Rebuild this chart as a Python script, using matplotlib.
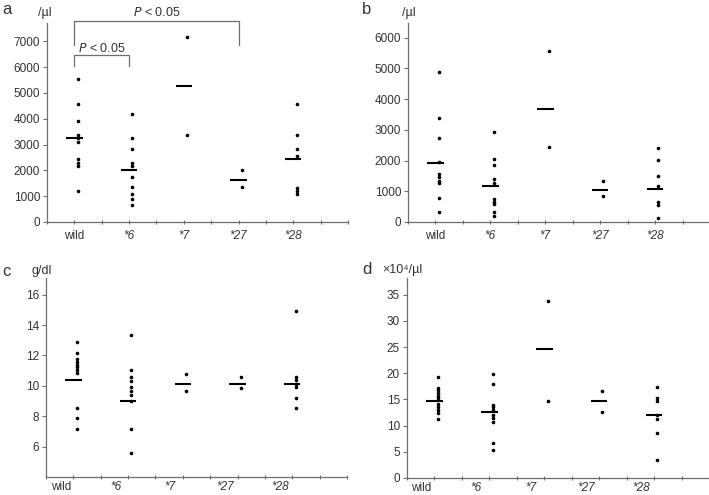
import matplotlib
matplotlib.use("Agg")
import matplotlib.pyplot as plt
import numpy as np

plt.rcParams['font.family'] = ['Liberation Sans', 'DejaVu Sans']

# === Данные ===
groups = ['wild', '*6', '*7', '*27', '*28']

a_vals = [
    [5530, 4570, 3910, 3370, 3260, 3100, 2430, 2300, 2170, 1210],
    [4170, 3240, 2830, 2300, 2180, 1760, 1340, 1085, 900, 660],
    [7150, 3370],
    [2020, 1340],
    [4560, 3370, 2830, 2560, 1330, 1200, 1070],
]
a_mid = [3250, 2000, 5260, 1630, 2430]

b_vals = [
    [4900, 3400, 2720, 1940, 1560, 1450, 1340, 1260, 790, 335],
    [2920, 2040, 1845, 1390, 1280, 740, 660, 575, 335, 195],
    [5580, 2440],
    [1320, 845],
    [2410, 2010, 1500, 1170, 660, 550, 140],
]
b_mid = [1930, 1170, 3670, 1040, 1090]

c_vals = [
    [12.88, 12.19, 11.78, 11.58, 11.38, 11.21, 11.03, 10.84, 8.52, 7.86, 7.18],
    [13.33, 11.05, 10.6, 10.33, 9.9, 9.65, 9.42, 9.0, 7.18, 5.56],
    [10.81, 9.65],
    [10.6, 9.87],
    [14.95, 10.6, 10.38, 10.14, 9.92, 9.22, 8.52],
]
c_mid = [10.38, 9.0, 10.14, 10.14, 10.14]

d_vals = [
    [19.3, 17.25, 16.75, 16.2, 15.7, 15.2, 14.1, 13.55, 13.05, 12.5, 11.3],
    [19.9, 17.9, 14.0, 13.55, 13.05, 12.0, 11.45, 10.75, 6.6, 5.3],
    [33.9, 14.64],
    [16.68, 12.67],
    [17.3, 15.3, 14.65, 12.0, 11.35, 8.65, 3.4],
]
d_mid = [14.64, 12.6, 24.63, 14.64, 11.97]

W, H = 709, 495
spine_c = '#6e6e6e'
text_c = '#333333'


def draw_panel(rect, vals, mids, ylim, yticks, label_shift, label_y):
    ax = fig.add_axes(rect)
    for i, (v, m) in enumerate(zip(vals, mids)):
        ax.plot([i + 0.56] * len(v), v, 'o', color='black', markersize=2.6,
                markeredgewidth=0, clip_on=False)
        ax.plot([i + 0.35, i + 0.65], [m, m], color='black', lw=1.5,
                solid_capstyle='butt')
    ax.set_xlim(0, 5.5)
    ax.set_ylim(*ylim)
    ax.set_yticks(yticks)
    ax.set_yticklabels([str(t) for t in yticks])
    ax.set_xticks(np.arange(0, 5.51, 0.5))
    ax.set_xticklabels([])
    for i, g in enumerate(groups):
        ax.text(i + label_shift, label_y, g, transform=ax.get_xaxis_transform(),
                ha='center', va='top', fontsize=8.5, color=text_c,
                style='normal' if g == 'wild' else 'italic')
    for s in ['top', 'right']:
        ax.spines[s].set_visible(False)
    for s in ['left', 'bottom']:
        ax.spines[s].set_color(spine_c)
        ax.spines[s].set_linewidth(0.9)
    ax.tick_params(axis='y', direction='out', length=3, width=0.8,
                   color=spine_c, labelsize=8.5, labelcolor=text_c, pad=2)
    ax.tick_params(axis='x', direction='inout', length=3, width=0.8,
                   color=spine_c)
    ax.patch.set_visible(False)
    return ax


def fr(left, top, right, bottom):
    return [left / W, (H - bottom) / H, (right - left) / W, (bottom - top) / H]


fig = plt.figure(figsize=(W / 100, H / 100), dpi=100)

ax_a = draw_panel(fr(47, 23, 348, 222), a_vals, a_mid, (0, 7710),
                  list(range(0, 7001, 1000)), 0.5, -0.04)
ax_b = draw_panel(fr(408, 23, 710, 222), b_vals, b_mid, (0, 6480),
                  list(range(0, 6001, 1000)), 0.5, -0.04)
ax_c = draw_panel(fr(46, 278, 347, 477), c_vals, c_mid, (4, 17.1),
                  list(range(6, 17, 2)), 0.27, -0.022)
ax_d = draw_panel(fr(407, 278, 709, 478), d_vals, d_mid, (0, 38.2),
                  list(range(0, 36, 5)), 0.26, -0.018)

# скобки со значимостью
br = dict(color=spine_c, lw=0.9, clip_on=False)
ax_a.plot([0.5, 0.5, 3.5, 3.5], [6860, 7800, 7800, 6860], **br)
ax_a.plot([0.5, 0.5, 1.5, 1.5], [6045, 6470, 6470, 6045], **br)
ax_a.text(2.0, 8110, r'$P$ < 0.05', ha='center', va='center', fontsize=9,
          color=text_c)
ax_a.text(1.0, 6740, r'$P$ < 0.05', ha='center', va='center', fontsize=9,
          color=text_c)

# подписи панелей и единицы
def ftext(x, y, s, size):
    fig.text(x / W, 1 - y / H, s, fontsize=size, color=text_c,
             ha='left', va='center')

ftext(2, 10, 'a', 12)
ftext(38, 13, '/µl', 9)
ftext(362, 10, 'b', 12)
ftext(402, 13, '/µl', 9)
ftext(2, 271, 'c', 12)
ftext(31, 271, 'g/dl', 9)
ftext(362, 270, 'd', 12)
ftext(382, 270, '×10⁴/µl', 9)

fig.savefig('out.png', dpi=100)
